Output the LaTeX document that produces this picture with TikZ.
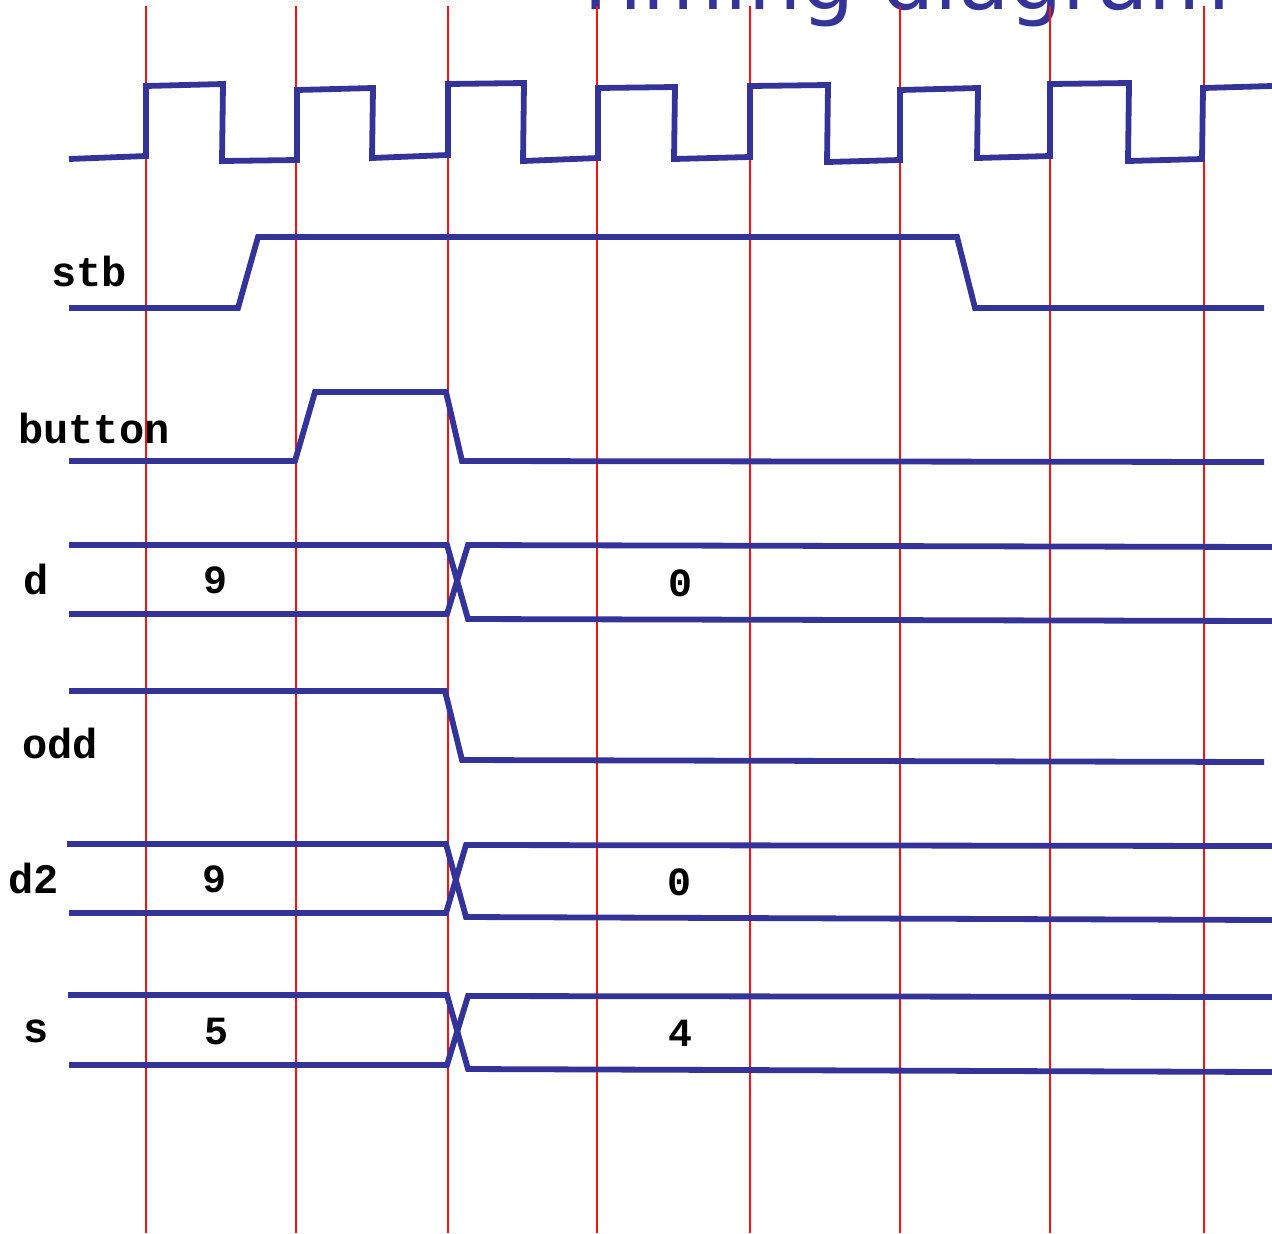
\documentclass[tikz,border=0pt]{standalone}
\usepackage{fontspec}
\usepackage{tikz}
\newfontfamily\monolbl{Liberation Mono}
\newfontfamily\headfont{DejaVu Sans}
\definecolor{wblue}{HTML}{333399}
\definecolor{wred}{HTML}{FF1010}
\tikzset{
  wave/.style={draw=wblue, line width=2.9pt, line join=miter, line cap=butt},
  tickline/.style={draw=wred, line width=0.55pt},
  siglabel/.style={font=\monolbl\bfseries\fontsize{21}{21}\selectfont, text=black, inner sep=0pt},
  busval/.style={font=\monolbl\bfseries\fontsize{20}{20}\selectfont, text=black, inner sep=0pt},
  headline/.style={font=\headfont\fontsize{42}{42}\selectfont, text=wblue, inner sep=0pt}
}

\begin{document}
\begin{tikzpicture}[x=0.5pt, y=-0.5pt]
  \useasboundingbox (0,0) rectangle (1272,1233);
  \clip (0,0) rectangle (1272,1233);

  % title, mostly off the top
  \node[headline, anchor=base east] (title) at (1231,9) {Timing diagram};

  % clock edges
  \foreach \x in {146,296,448,597,750,900,1050,1204}
    \draw[tickline] (\x,6) -- (\x,1233);

  % clock
  \draw[wave] (69,159) -- (146,156) -- (146,86) -- (223,84) -- (222,161) -- (297,160)
    -- (297,90) -- (373,88) -- (372,158) -- (448,155) -- (448,84) -- (524,83)
    -- (523,161) -- (598,158) -- (598,88) -- (675,87) -- (674,159) -- (750,157)
    -- (750,86) -- (828,85) -- (827,162) -- (900,160) -- (900,90) -- (978,88)
    -- (977,158) -- (1050,156) -- (1050,84) -- (1129,83) -- (1128,161) -- (1202,159)
    -- (1203,88) -- (1272,86);

  % stb
  \node[siglabel] (lstb) at (89,271) {stb};
  \draw[wave] (69,308) -- (238,308) -- (258,237) -- (957,237) -- (975,308) -- (1264,308);

  % button
  \node[siglabel] (lbutton) at (94,428) {button};
  \draw[wave] (69,461) -- (295,461) -- (315,392) -- (446,392) -- (462,461) -- (1264,462);

  % d
  \node[siglabel] (ld) at (36,579) {d};
  \draw[wave] (69,545) -- (447,545) -- (468,619) -- (1272,621);
  \draw[wave] (69,614) -- (447,614) -- (468,545) -- (1272,547);
  \node[busval] (d9) at (215,580) {9};
  \node[busval] (d0) at (680,583) {0};

  % odd
  \node[siglabel] (lodd) at (60,743) {odd};
  \draw[wave] (69,691) -- (445,691) -- (462,760) -- (1264,762);

  % d2
  \node[siglabel] (ldd) at (34,878) {d2};
  \draw[wave] (67,844) -- (446,844) -- (466,917) -- (1272,920);
  \draw[wave] (69,913) -- (446,913) -- (466,845) -- (1272,846);
  \node[busval] (dd9) at (214,879) {9};
  \node[busval] (dd0) at (679,882) {0};

  % s
  \node[siglabel] (ls) at (36,1031) {s};
  \draw[wave] (68,995) -- (447,995) -- (468,1069) -- (1272,1072);
  \draw[wave] (69,1065) -- (447,1065) -- (468,996) -- (1272,997);
  \node[busval] (s5) at (216,1031) {5};
  \node[busval] (s4) at (680,1033) {4};
\end{tikzpicture}
\end{document}
